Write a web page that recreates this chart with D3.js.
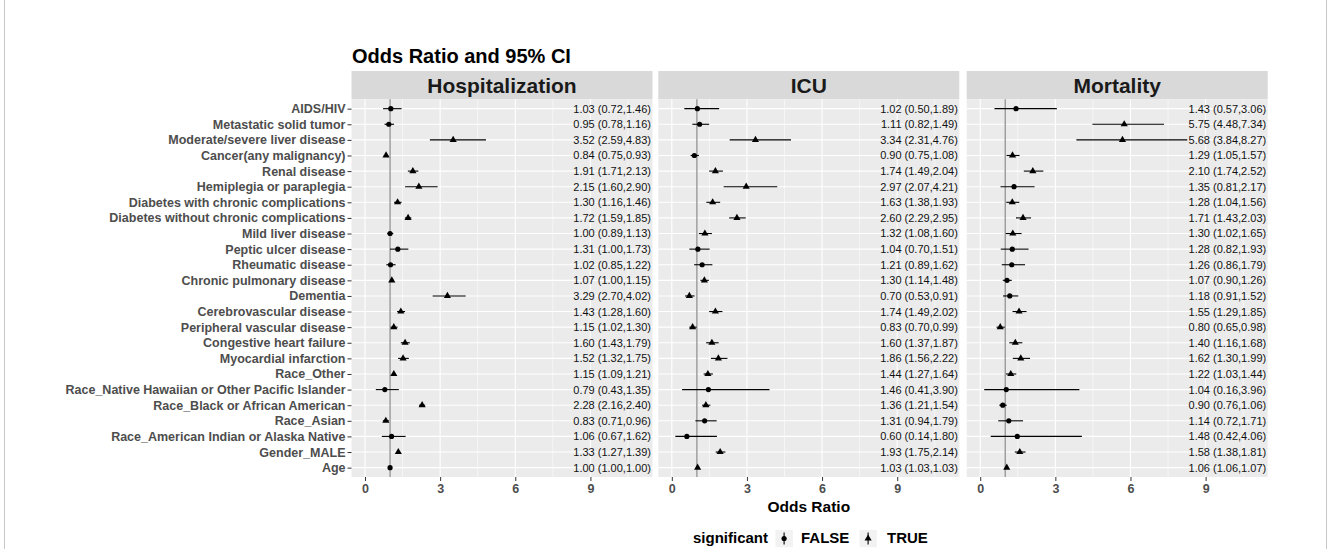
<!DOCTYPE html>
<html>
<head>
<meta charset="utf-8">
<script src="https://cdn.jsdelivr.net/npm/d3@7"></script>
<style>
  html, body { margin: 0; padding: 0; background: #fff; }
  svg { display: block; font-family: "Liberation Sans", Arial, sans-serif; }
</style>
</head>
<body>
<svg id="chart" width="1328" height="549"></svg>
<script>
// Covariates, top to bottom
const categories = [
  "AIDS/HIV",
  "Metastatic solid tumor",
  "Moderate/severe liver disease",
  "Cancer(any malignancy)",
  "Renal disease",
  "Hemiplegia or paraplegia",
  "Diabetes with chronic complications",
  "Diabetes without chronic complications",
  "Mild liver disease",
  "Peptic ulcer disease",
  "Rheumatic disease",
  "Chronic pulmonary disease",
  "Dementia",
  "Cerebrovascular disease",
  "Peripheral vascular disease",
  "Congestive heart failure",
  "Myocardial infarction",
  "Race_Other",
  "Race_Native Hawaiian or Other Pacific Islander",
  "Race_Black or African American",
  "Race_Asian",
  "Race_American Indian or Alaska Native",
  "Gender_MALE",
  "Age"
];

const outcomes = ["Hospitalization", "ICU", "Mortality"];

// Hospitalization: odds ratio, lower and upper 95% CI, significance
const hospOR  = [1.03, 0.95, 3.52, 0.84, 1.91, 2.15, 1.30, 1.72, 1.00, 1.31, 1.02, 1.07, 3.29, 1.43, 1.15, 1.60, 1.52, 1.15, 0.79, 2.28, 0.83, 1.06, 1.33, 1.00];
const hospLo  = [0.72, 0.78, 2.59, 0.75, 1.71, 1.60, 1.16, 1.59, 0.89, 1.00, 0.85, 1.00, 2.70, 1.28, 1.02, 1.43, 1.32, 1.09, 0.43, 2.16, 0.71, 0.67, 1.27, 1.00];
const hospHi  = [1.46, 1.16, 4.83, 0.93, 2.13, 2.90, 1.46, 1.85, 1.13, 1.73, 1.22, 1.15, 4.02, 1.60, 1.30, 1.79, 1.75, 1.21, 1.35, 2.40, 0.96, 1.62, 1.39, 1.00];
const hospSig = [false, false, true, true, true, true, true, true, false, false, false, true, true, true, true, true, true, true, false, true, true, false, true, false];

// ICU
const icuOR  = [1.02, 1.11, 3.34, 0.90, 1.74, 2.97, 1.63, 2.60, 1.32, 1.04, 1.21, 1.30, 0.70, 1.74, 0.83, 1.60, 1.86, 1.44, 1.46, 1.36, 1.31, 0.60, 1.93, 1.03];
const icuLo  = [0.50, 0.82, 2.31, 0.75, 1.49, 2.07, 1.38, 2.29, 1.08, 0.70, 0.89, 1.14, 0.53, 1.49, 0.70, 1.37, 1.56, 1.27, 0.41, 1.21, 0.94, 0.14, 1.75, 1.03];
const icuHi  = [1.89, 1.49, 4.76, 1.08, 2.04, 4.21, 1.93, 2.95, 1.60, 1.51, 1.62, 1.48, 0.91, 2.02, 0.99, 1.87, 2.22, 1.64, 3.90, 1.54, 1.79, 1.80, 2.14, 1.03];
const icuSig = [false, false, true, false, true, true, true, true, true, false, false, true, true, true, true, true, true, true, false, true, false, false, true, true];

// Mortality
const mortOR  = [1.43, 5.75, 5.68, 1.29, 2.10, 1.35, 1.28, 1.71, 1.30, 1.28, 1.26, 1.07, 1.18, 1.55, 0.80, 1.40, 1.62, 1.22, 1.04, 0.90, 1.14, 1.48, 1.58, 1.06];
const mortLo  = [0.57, 4.48, 3.84, 1.05, 1.74, 0.81, 1.04, 1.43, 1.02, 0.82, 0.86, 0.90, 0.91, 1.29, 0.65, 1.16, 1.30, 1.03, 0.16, 0.76, 0.72, 0.42, 1.38, 1.06];
const mortHi  = [3.06, 7.34, 8.27, 1.57, 2.52, 2.17, 1.56, 2.03, 1.65, 1.93, 1.79, 1.26, 1.52, 1.85, 0.98, 1.68, 1.99, 1.44, 3.96, 1.06, 1.71, 4.06, 1.81, 1.07];
const mortSig = [false, true, true, true, true, false, true, true, true, false, false, false, false, true, true, true, true, true, false, false, false, false, true, true];

const xTicks = [0, 3, 6, 9];
const xMinor = [1.5, 4.5, 7.5, 10.5];
const titleText = "Odds Ratio and 95% CI";
const xTitle = "Odds Ratio";
const legendTitle = "significant";
const legendLabels = ["FALSE", "TRUE"];

const series = [
  { name: outcomes[0], or: hospOR, lo: hospLo, hi: hospHi, sig: hospSig },
  { name: outcomes[1], or: icuOR,  lo: icuLo,  hi: icuHi,  sig: icuSig },
  { name: outcomes[2], or: mortOR, lo: mortLo, hi: mortHi, sig: mortSig }
];

// ---- layout ----
const svg = d3.select("#chart");
const panelLefts = [351.5, 658.3, 966.7];
const panelW = 301;
const stripTop = 71, panelTop = 99.3, panelBottom = 477;
const xDomain = [-0.54, 11.48];
const labelX = 11.42;

const y = d3.scalePoint().domain(categories).range([panelTop, panelBottom]).padding(0.6);

const fmt = v => v.toFixed(2);
const triangle = d3.symbol().type(d3.symbolTriangle).size(22)();
const circle = d3.symbol().type(d3.symbolCircle).size(21)();

// side edges of the outer frame
[4.5, 1326.5].forEach(fx => {
  svg.append("line")
    .attr("x1", fx).attr("x2", fx).attr("y1", 0).attr("y2", 549)
    .attr("stroke", "#c8c8c8").attr("stroke-width", 1);
});

// title
svg.append("text")
  .attr("x", 352).attr("y", 63)
  .attr("font-size", 20).attr("font-weight", "bold").attr("fill", "#000")
  .text(titleText);

series.forEach((s, i) => {
  const left = panelLefts[i];
  const x = d3.scaleLinear().domain(xDomain).range([left, left + panelW]);
  const g = svg.append("g");

  // strip
  g.append("rect")
    .attr("x", left).attr("y", stripTop).attr("width", panelW).attr("height", panelTop - stripTop)
    .attr("fill", "#d9d9d9");
  g.append("text")
    .attr("x", left + panelW / 2).attr("y", 93)
    .attr("text-anchor", "middle").attr("font-size", 21).attr("font-weight", "bold")
    .attr("fill", "#1a1a1a")
    .text(s.name);

  // panel background
  g.append("rect")
    .attr("x", left).attr("y", panelTop).attr("width", panelW).attr("height", panelBottom - panelTop)
    .attr("fill", "#ebebeb");

  // grid
  g.selectAll(".minor").data(xMinor).join("line")
    .attr("x1", d => x(d)).attr("x2", d => x(d))
    .attr("y1", panelTop).attr("y2", panelBottom)
    .attr("stroke", "#fff").attr("stroke-width", 0.55);
  g.selectAll(".major").data(xTicks).join("line")
    .attr("x1", d => x(d)).attr("x2", d => x(d))
    .attr("y1", panelTop).attr("y2", panelBottom)
    .attr("stroke", "#fff").attr("stroke-width", 1.1);
  g.selectAll(".hgrid").data(categories).join("line")
    .attr("x1", left).attr("x2", left + panelW)
    .attr("y1", d => y(d)).attr("y2", d => y(d))
    .attr("stroke", "#fff").attr("stroke-width", 1.1);

  // reference line at OR = 1
  g.append("line")
    .attr("x1", x(1)).attr("x2", x(1))
    .attr("y1", panelTop).attr("y2", panelBottom)
    .attr("stroke", "#9a9a9a").attr("stroke-width", 1.4);

  const rows = categories.map((c, k) => ({ c, or: s.or[k], lo: s.lo[k], hi: s.hi[k], sig: s.sig[k] }));

  // confidence intervals
  g.selectAll(".ci").data(rows).join("line")
    .attr("x1", d => x(d.lo)).attr("x2", d => x(d.hi))
    .attr("y1", d => y(d.c)).attr("y2", d => y(d.c))
    .attr("stroke", "#000").attr("stroke-width", 1.1);

  // point estimates
  g.selectAll(".pt").data(rows).join("path")
    .attr("d", d => d.sig ? triangle : circle)
    .attr("transform", d => `translate(${x(d.or)},${y(d.c)})`)
    .attr("fill", "#000");

  // value labels
  g.selectAll(".lab").data(rows).join("text")
    .attr("x", x(labelX)).attr("y", d => y(d.c))
    .attr("dy", "0.36em").attr("text-anchor", "end")
    .attr("font-size", 11).attr("fill", "#111")
    .text(d => `${fmt(d.or)} (${fmt(d.lo)},${fmt(d.hi)})`);

  // x axis
  const ax = g.append("g")
    .attr("transform", `translate(0,${panelBottom})`)
    .call(d3.axisBottom(x).tickValues(xTicks).tickSize(4).tickPadding(3).tickFormat(d3.format("d")));
  ax.select(".domain").remove();
  ax.selectAll(".tick line").attr("stroke", "#333");
  ax.selectAll(".tick text")
    .attr("font-size", 12.5).attr("font-weight", "bold").attr("fill", "#4d4d4d")
    .attr("font-family", "Liberation Sans, Arial, sans-serif");

  if (i === 0) {
    const ay = g.append("g")
      .attr("transform", `translate(${left},0)`)
      .call(d3.axisLeft(y).tickSize(4).tickPadding(2));
    ay.select(".domain").remove();
    ay.selectAll(".tick line").attr("stroke", "#333");
    ay.selectAll(".tick text")
      .attr("font-size", 12.5).attr("font-weight", "bold").attr("fill", "#4d4d4d")
      .attr("font-family", "Liberation Sans, Arial, sans-serif");
  }
});

// x axis title
svg.append("text")
  .attr("x", panelLefts[1] + panelW / 2).attr("y", 511.5)
  .attr("text-anchor", "middle").attr("font-size", 15.5).attr("font-weight", "bold")
  .text(xTitle);

// legend
const leg = svg.append("g");
leg.append("text")
  .attr("x", 693).attr("y", 543)
  .attr("font-size", 15).attr("font-weight", "bold")
  .text(legendTitle);
const keyX = [775.5, 859.5];
const labX = [801, 887];
legendLabels.forEach((lab, k) => {
  const cx = keyX[k] + 8.6, cy = 538.5;
  leg.append("rect")
    .attr("x", keyX[k]).attr("y", cy - 8.6).attr("width", 17.3).attr("height", 17.3)
    .attr("fill", "#f2f2f2");
  leg.append("line")
    .attr("x1", cx).attr("x2", cx).attr("y1", cy - 6).attr("y2", cy + 6)
    .attr("stroke", "#000").attr("stroke-width", 1.1);
  leg.append("path")
    .attr("d", k === 1 ? triangle : circle)
    .attr("transform", `translate(${cx},${cy})`)
    .attr("fill", "#000");
  leg.append("text")
    .attr("x", labX[k]).attr("y", 543)
    .attr("font-size", 15).attr("font-weight", "bold")
    .text(lab);
});
</script>
</body>
</html>
